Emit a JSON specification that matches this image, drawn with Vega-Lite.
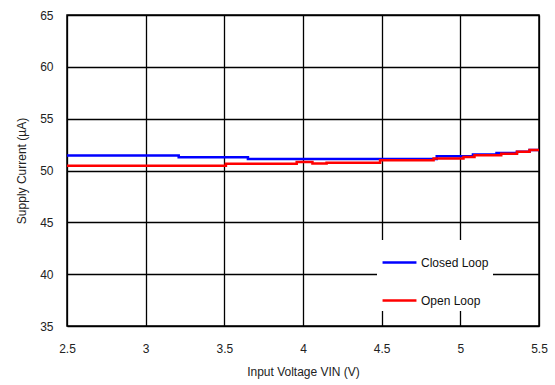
{
  "$schema": "https://vega.github.io/schema/vega-lite/v6.json",
  "width": 472,
  "height": 311,
  "autosize": "none",
  "padding": {"left": 67, "top": 15, "right": 16, "bottom": 59},
  "background": "white",
  "config": {
    "view": {"stroke": "#000", "strokeWidth": 1.5},
    "font": "Liberation Sans"
  },
  "data": {"values": [
    {"v": 2.5, "i": 51.45, "s": "Closed Loop"},
    {"v": 3.21, "i": 51.28, "s": "Closed Loop"},
    {"v": 3.65, "i": 51.12, "s": "Closed Loop"},
    {"v": 4.85, "i": 51.38, "s": "Closed Loop"},
    {"v": 5.08, "i": 51.55, "s": "Closed Loop"},
    {"v": 5.23, "i": 51.7, "s": "Closed Loop"},
    {"v": 5.36, "i": 51.8, "s": "Closed Loop"},
    {"v": 5.44, "i": 51.98, "s": "Closed Loop"},
    {"v": 5.5, "i": 51.98, "s": "Closed Loop"},
    {"v": 2.5, "i": 50.47, "s": "Open Loop"},
    {"v": 3.51, "i": 50.65, "s": "Open Loop"},
    {"v": 3.96, "i": 50.82, "s": "Open Loop"},
    {"v": 4.06, "i": 50.67, "s": "Open Loop"},
    {"v": 4.15, "i": 50.75, "s": "Open Loop"},
    {"v": 4.49, "i": 50.98, "s": "Open Loop"},
    {"v": 4.83, "i": 51.15, "s": "Open Loop"},
    {"v": 5.02, "i": 51.3, "s": "Open Loop"},
    {"v": 5.09, "i": 51.47, "s": "Open Loop"},
    {"v": 5.26, "i": 51.62, "s": "Open Loop"},
    {"v": 5.36, "i": 51.8, "s": "Open Loop"},
    {"v": 5.44, "i": 51.98, "s": "Open Loop"},
    {"v": 5.5, "i": 51.98, "s": "Open Loop"}
  ]},
  "mark": {"type": "line", "interpolate": "step-after", "strokeWidth": 2.5},
  "encoding": {
    "x": {
      "field": "v", "type": "quantitative",
      "scale": {"domain": [2.5, 5.5], "nice": false, "zero": false},
      "axis": {
        "values": [2.5, 3, 3.5, 4, 4.5, 5, 5.5],
        "format": "~g",
        "title": "Input Voltage VIN (V)",
        "grid": true, "gridColor": "#000", "gridWidth": 1.3, "gridOpacity": 1,
        "domain": false, "ticks": false, "tickSize": 0,
        "labelPadding": 17, "labelFontSize": 12, "labelColor": "#222",
        "labelFont": "Liberation Sans", "labelFlush": false,
        "titleFont": "Liberation Sans", "titleFontSize": 12, "titleFontWeight": "normal",
        "titleColor": "#222", "titlePadding": 12
      }
    },
    "y": {
      "field": "i", "type": "quantitative",
      "scale": {"domain": [35, 65], "nice": false, "zero": false},
      "axis": {
        "values": [35, 40, 45, 50, 55, 60, 65],
        "title": "Supply Current (µA)",
        "grid": true, "gridColor": "#000", "gridWidth": 1.3, "gridOpacity": 1,
        "domain": false, "ticks": false, "tickSize": 0,
        "labelPadding": 14, "labelFontSize": 12, "labelColor": "#222",
        "labelFont": "Liberation Sans", "labelFlush": false,
        "titleFont": "Liberation Sans", "titleFontSize": 12, "titleFontWeight": "normal",
        "titleColor": "#222", "titlePadding": 11
      }
    },
    "color": {
      "field": "s", "type": "nominal",
      "scale": {"domain": ["Closed Loop", "Open Loop"], "range": ["#0000ff", "#ff0000"]},
      "legend": {
        "title": null,
        "orient": "none",
        "legendX": 310,
        "legendY": 225,
        "fillColor": "white",
        "strokeColor": null,
        "padding": 4,
        "symbolType": "stroke",
        "symbolSize": 1150,
        "symbolStrokeWidth": 2.5,
        "labelFontSize": 12,
        "labelFont": "Liberation Sans",
        "labelColor": "#111",
        "labelOffset": 3,
        "rowPadding": 13,
        "symbolOffset": 0
      }
    }
  }
}
